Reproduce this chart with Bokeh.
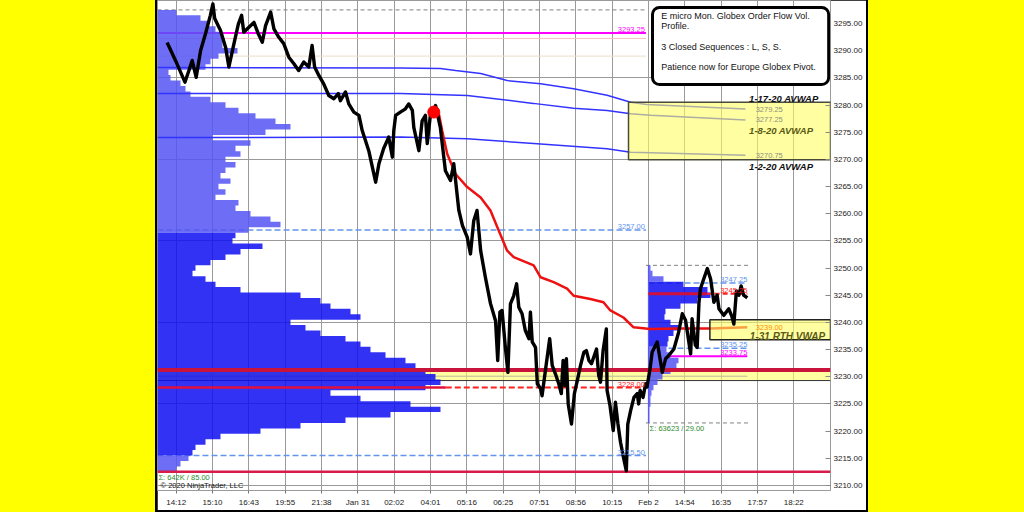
from bokeh.plotting import figure
from bokeh.models import (Range1d, FixedTicker, Label, BoxAnnotation, Div,
                          GlobalInlineStyleSheet, ColumnDataSource, PrintfTickFormatter)
from bokeh.layouts import row
from bokeh.embed import file_html
from bokeh.resources import INLINE

FONT = "Liberation Sans"

# ---------------- data ----------------
time_labels = ["14:12", "15:10", "16:43", "19:55", "21:38", "Jan 31", "02:02", "04:01",
               "05:16", "06:25", "07:51", "08:56", "10:15", "Feb 2", "14:54", "16:35",
               "17:57", "18:22"]

price_t = [-0.25, -0.02, 0.24, 0.35, 0.44, 0.55, 0.67, 0.81, 0.94, 1.01, 1.06, 1.22, 1.36, 1.45,
           1.59, 1.71, 1.80, 1.86, 2.00, 2.14, 2.26, 2.37, 2.46, 2.60, 2.69, 2.82, 2.96, 3.10,
           3.24, 3.37, 3.51, 3.65, 3.74, 3.81, 3.93, 4.06, 4.20, 4.34, 4.46, 4.52, 4.66, 4.75,
           4.89, 5.03, 5.12, 5.30, 5.49, 5.58, 5.71, 5.85, 5.95, 5.99, 6.04, 6.17, 6.31, 6.40,
           6.50, 6.54, 6.68, 6.77, 6.86, 6.91, 7.00, 7.09, 7.14, 7.27, 7.41, 7.55, 7.64, 7.78,
           7.88, 8.01, 8.10, 8.19, 8.28, 8.38, 8.51, 8.65, 8.79, 8.85, 8.91, 8.97, 9.06, 9.13,
           9.20, 9.29, 9.37, 9.43, 9.52, 9.61, 9.71, 9.75, 9.80, 9.89, 9.94, 10.03, 10.07,
           10.17, 10.28, 10.35, 10.44, 10.53, 10.60, 10.65, 10.70, 10.74, 10.79, 10.88, 10.96,
           11.04, 11.13, 11.22, 11.29, 11.36, 11.43, 11.57, 11.63, 11.68, 11.75, 11.84, 11.86,
           11.94, 12.03, 12.09, 12.16, 12.23, 12.32, 12.39, 12.43, 12.51, 12.60, 12.69, 12.73,
           12.77, 12.85, 12.92, 12.96, 13.05, 13.10, 13.24, 13.38, 13.47, 13.56, 13.70, 13.83,
           13.93, 14.02, 14.07, 14.16, 14.20, 14.29, 14.34, 14.39, 14.43, 14.52, 14.62, 14.71,
           14.80, 14.89, 14.94, 15.07, 15.21, 15.30, 15.35, 15.42, 15.49, 15.55, 15.62, 15.72]
price_v = [3291.5, 3288.2, 3284.2, 3286.35, 3288.2, 3285.1, 3290.0, 3293.2, 3296.5, 3298.6,
           3295.9, 3293.7, 3290.6, 3287.0, 3291.3, 3294.9, 3296.5, 3293.4, 3294.3, 3295.2,
           3293.1, 3291.55, 3294.6, 3297.1, 3294.0, 3292.5, 3291.3, 3288.8, 3287.6, 3286.35,
           3287.9, 3287.0, 3290.95, 3287.0, 3285.4, 3283.9, 3281.75, 3281.15, 3282.1, 3280.8,
           3282.4, 3280.2, 3278.7, 3278.1, 3275.3, 3271.6, 3265.8, 3269.2, 3272.0, 3274.1,
           3270.4, 3275.3, 3278.1, 3278.7, 3279.3, 3280.2, 3279.0, 3275.9, 3271.6, 3277.1,
           3278.1, 3272.9, 3278.4, 3278.7, 3279.9, 3275.9, 3267.9, 3266.1, 3269.2, 3260.6,
           3257.8, 3255.7, 3252.6, 3258.7, 3260.6, 3253.2, 3248.3, 3243.5, 3240.3, 3233.0,
           3241.9, 3242.2, 3235.4, 3230.8, 3243.4, 3244.9, 3247.1, 3242.8, 3241.6, 3238.5,
           3237.0, 3241.9, 3236.4, 3235.4, 3228.7, 3227.8, 3226.5, 3231.5, 3237.0, 3232.1,
           3230.5, 3228.7, 3226.9, 3233.0, 3228.4, 3233.3, 3225.0, 3221.3, 3226.9, 3229.3,
           3232.1, 3234.5, 3234.8, 3233.0, 3232.4, 3235.1, 3230.2, 3229.0, 3234.8, 3238.8,
           3227.5, 3224.7, 3220.1, 3225.3, 3221.3, 3217.95, 3214.9, 3212.7, 3221.3, 3223.8,
           3226.2, 3226.9, 3225.0, 3227.5, 3226.2, 3228.7, 3228.1, 3231.8, 3234.5, 3236.4,
           3230.8, 3233.3, 3233.9, 3235.1, 3238.2, 3241.6, 3240.4, 3238.2, 3234.2, 3240.7,
           3235.8, 3235.4, 3243.7, 3246.2, 3248.0, 3249.9, 3248.0, 3243.7, 3245.0, 3242.5,
           3241.3, 3242.5, 3241.0, 3239.7, 3245.8, 3245.0, 3246.7, 3245.0, 3244.5]

vwap_t = [7.09, 7.23, 7.32, 7.46, 7.69, 8.01, 8.38, 8.65, 8.84, 9.11, 9.29, 9.84, 10.03, 10.39,
          10.76, 10.94, 11.40, 11.76, 11.95, 12.31, 12.59, 13.05, 13.89, 14.71, 15.72]
vwap_v = [3278.7, 3278.4, 3275.3, 3271.0, 3267.3, 3264.9, 3263.0, 3260.6, 3257.5, 3253.2,
          3252.0, 3250.5, 3248.3, 3247.4, 3246.2, 3244.9, 3244.3, 3243.7, 3242.2, 3240.9,
          3239.1, 3238.8, 3238.9, 3238.9, 3239.1]

avwap_0117_t = [-0.52, 6.17, 7.27, 7.69, 8.38, 9.11, 10.03, 10.94, 11.86, 12.51, 12.95, 15.67]
avwap_0117_v = [3286.9, 3286.8, 3286.7, 3286.35, 3285.8, 3284.5, 3283.9, 3283.0, 3281.8,
                3280.5, 3280.1, 3279.25]
avwap_0108_t = [-0.52, 6.17, 8.01, 9.83, 10.94, 11.86, 12.51, 13.06, 15.67]
avwap_0108_v = [3282.1, 3282.1, 3281.75, 3280.3, 3279.4, 3279.0, 3278.4, 3278.1, 3277.25]
avwap_0102_t = [-0.52, 6.17, 8.01, 9.84, 11.86, 12.51, 13.06, 15.67]
avwap_0102_v = [3274.0, 3274.1, 3273.8, 3272.9, 3271.95, 3271.3, 3271.2, 3270.75]

# volume profile 1 (Jan 31 session), one row per point, 3297 down to 3213
profile1_levels = list(range(3297, 3212, -1))
profile1_vol = [19, 43, 51, 58, 65, 65, 65, 80, 61, 53, 48, 11, 13, 23, 28, 33, 53, 68, 81, 98,
                118, 133, 108, 55, 93, 78, 83, 68, 78, 68, 63, 73, 61, 68, 58, 81, 78, 93, 113,
                123, 91, 78, 75, 105, 83, 68, 53, 38, 35, 48, 58, 83, 143, 163, 173, 193, 203,
                133, 148, 163, 188, 203, 213, 228, 248, 258, 268, 278, 283, 268, 173, 203, 253,
                283, 233, 188, 143, 103, 63, 48, 38, 35, 31, 23, 19]
profile1_va = (3215.5, 3257.0)
# volume profile 2 (Feb 2 session), 3250 down to 3222
profile2_levels = list(range(3250, 3221, -1))
profile2_vol = [2, 4, 15, 35, 59, 62, 49, 32, 17, 16, 22, 30, 25, 20, 19, 18, 22, 30, 28, 22,
                14, 9, 5, 3, 2, 2, 1, 1, 1]
profile2_va = (3235.25, 3247.25)

session1_start, session1_end = -0.515, 12.93
session2_start, session2_end = 13.0, 15.72

flag_values = [3279.36, 3277.34, 3270.87, 3239.02]
last_price = 3244.50

# ---------------- figure ----------------
X0, X1 = -0.515, 18.01
p = figure(width=709, height=510, x_range=Range1d(X0, X1), y_range=Range1d(3209.07, 3299.23),
           output_backend="svg", toolbar_location=None, y_axis_location="right",
           min_border_left=0, min_border_right=36, min_border_top=0, min_border_bottom=20,
           background_fill_color="white", border_fill_color="white",
           outline_line_color="#9a9a9a", margin=0)

xa = p.xaxis[0]
xa.ticker = FixedTicker(ticks=list(range(len(time_labels))))
xa.major_label_overrides = {i: s for i, s in enumerate(time_labels)}
xa.major_label_text_font = FONT
xa.major_label_text_font_size = "8px"
xa.major_label_text_color = "#222222"
xa.axis_line_color = None
xa.major_tick_out = 3
xa.major_tick_in = 0
xa.major_tick_line_color = "#777777"
xa.minor_tick_line_color = None
xa.major_label_standoff = 4

ya = p.yaxis[0]
ya.ticker = FixedTicker(ticks=list(range(3210, 3300, 5)))
ya.formatter = PrintfTickFormatter(format="%.2f")
ya.major_label_text_font = FONT
ya.major_label_text_font_size = "8px"
ya.major_label_text_color = "#222222"
ya.axis_line_color = None
ya.major_tick_in = 5
ya.major_tick_out = 0
ya.major_tick_line_color = "#888888"
ya.minor_tick_line_color = None
ya.major_label_standoff = 3

p.xgrid.grid_line_color = "#9a9a9a"
p.ygrid.grid_line_color = "#9a9a9a"
p.ygrid.ticker = FixedTicker(ticks=list(range(3210, 3300, 15)))

YEL = "#ffff64"

# band (under profile)
p.quad(left=[X0], right=[X1], bottom=[3229.3], top=[3231.25], fill_color=YEL, fill_alpha=0.6,
       line_color=None)
p.segment(x0=[X0], x1=[X1], y0=[3229.3], y1=[3229.3], line_color="#333333", line_width=1)
p.segment(x0=[X0], x1=[session2_end], y0=[3230.1], y1=[3230.1], line_color="#b8b8a0",
          line_width=1)

# session-1 level lines (under the profile)
p.segment(x0=[session1_start], x1=[session1_end], y0=[3297.5], y1=[3297.5], line_color="#808080",
          line_dash="4 3", line_width=1)
p.segment(x0=[session1_start], x1=[session1_end], y0=[3292.25], y1=[3292.25],
          line_color="#f2c0c0", line_width=1)
p.segment(x0=[session1_start], x1=[session1_end], y0=[3289.0], y1=[3289.0],
          line_color="#ecdcc8", line_width=1)
p.segment(x0=[session1_start], x1=[session1_end], y0=[3293.25], y1=[3293.25],
          line_color="#ff00ff", line_width=2)
for lv in [3257.0, 3215.5]:
    p.segment(x0=[session1_start], x1=[session1_end], y0=[lv], y1=[lv], line_color="#6495ed",
              line_dash="6 3", line_width=1.6)

# session-2 level lines
for lv in [3250.5, 3221.5]:
    p.segment(x0=[session2_start - 0.07], x1=[session2_end + 0.03], y0=[lv], y1=[lv],
              line_color="#808080", line_dash="4 3", line_width=1)
p.segment(x0=[session2_start], x1=[session2_end], y0=[3247.25], y1=[3247.25],
          line_color="#6495ed", line_dash="6 3", line_width=1.6)
p.segment(x0=[13.55], x1=[session2_end], y0=[3235.25], y1=[3235.25],
          line_color="#6495ed", line_dash="6 3", line_width=1.6)
p.segment(x0=[13.55], x1=[session2_end], y0=[3233.75], y1=[3233.75],
          line_color="#ff00ff", line_width=2)


def profile(levels, vols, base, scale, va, light, deep):
    """Draw a volume profile as step-outlined patches (one per colour run)."""
    groups = []
    for lv, v in zip(levels, vols):
        c = deep if va[0] < lv < va[1] else light
        if not groups or groups[-1][0] != c:
            groups.append((c, []))
        groups[-1][1].append((lv, v))
    xs, ys, cs = [], [], []
    for c, items in groups:
        px, py = [base], [items[0][0] + 0.5]
        for lv, v in items:
            r = base + v * scale
            px += [r, r]
            py += [lv + 0.5, lv - 0.5]
        px.append(base)
        py.append(items[-1][0] - 0.5)
        xs.append(px)
        ys.append(py)
        cs.append(c)
    p.patches(xs="xs", ys="ys", source=ColumnDataSource(dict(xs=xs, ys=ys, c=cs)),
              fill_color="c", fill_alpha=0.85, line_color=None)


profile(profile1_levels, profile1_vol, session1_start, 1 / 36.33, profile1_va,
        "#5454f3", "#0e0ef3")
profile(profile2_levels, profile2_vol, session2_start, 1 / 36.33, profile2_va,
        "#5454f3", "#0e0ef3")
p.segment(x0=[session2_start], x1=[session2_start], y0=[3221.5], y1=[3250.5],
          line_color="#5a5af0", line_width=1.2)

# solid red levels
p.segment(x0=[X0], x1=[X1], y0=[3231.25], y1=[3231.25], line_color="#c8143c", line_width=4)
p.segment(x0=[X0], x1=[X1], y0=[3212.5], y1=[3212.5], line_color="#d81b4a", line_width=2.5)
p.segment(x0=[session1_start], x1=[7.42], y0=[3228.0], y1=[3228.0], line_color="#e0103a",
          line_width=2.5)
p.segment(x0=[7.42], x1=[session1_end], y0=[3228.0], y1=[3228.0], line_color="#ff2020",
          line_dash="6 3", line_width=2)
p.segment(x0=[session2_start], x1=[14.6], y0=[3245.25], y1=[3245.25], line_color="#d0103a",
          line_width=3)
p.segment(x0=[14.6], x1=[session2_end], y0=[3245.25], y1=[3245.25], line_color="#ff2020",
          line_dash="5 3", line_width=2)

# anchored VWAPs
for t, v in [(avwap_0117_t, avwap_0117_v), (avwap_0108_t, avwap_0108_v),
             (avwap_0102_t, avwap_0102_v)]:
    p.line(t, v, line_color="#3333ff", line_width=1.5)

# RTH VWAP
p.line(vwap_t, vwap_v, line_color="#ee1111", line_width=2.5)

# translucent yellow zones
p.quad(left=[12.45], right=[X1], bottom=[3269.92], top=[3280.52], fill_color=YEL,
       fill_alpha=0.6, line_color="#4a4a3a", line_width=1.5)
p.quad(left=[14.69], right=[X1], bottom=[3236.8], top=[3240.5], fill_color=YEL,
       fill_alpha=0.6, line_color="#222222", line_width=1.5)

# price
p.line(price_t, price_v, line_color="black", line_width=3.4, line_join="round")
p.scatter([vwap_t[0]], [vwap_v[0]], size=12, fill_color="#ff0000", line_color="#ff0000")


def lbl(x, y, text, color, size="7.5px", align="left", baseline="middle", style="normal",
        xo=0, yo=0):
    p.add_layout(Label(x=x, y=y, text=text, text_color=color, text_font=FONT,
                       text_font_size=size, text_align=align, text_baseline=baseline,
                       text_font_style=style, x_offset=xo, y_offset=yo))


BLUE_TXT = "#6495ed"
lbl(session1_end, 3293.25, "3293.25", "#ff00ff", align="right", baseline="bottom", xo=-1, yo=1)
lbl(session1_end, 3257.0, "3257.00", BLUE_TXT, align="right", baseline="bottom", xo=-1, yo=1)
lbl(session1_end, 3228.0, "3228.00", "#ff2020", align="right", baseline="bottom", xo=-1, yo=1)
lbl(session1_end, 3215.5, "3215.50", BLUE_TXT, align="right", baseline="bottom", xo=-1, yo=1)
lbl(session2_end, 3247.25, "3247.25", BLUE_TXT, align="right", baseline="bottom", yo=1)
lbl(session2_end, 3245.25, "3245.25", "#ff2020", align="right", baseline="bottom", yo=1)
lbl(session2_end, 3235.25, "3235.25", BLUE_TXT, align="right", baseline="bottom", yo=1)
lbl(session2_end, 3233.75, "3233.75", "#ff00ff", align="right", baseline="bottom", yo=1)
lbl(15.95, vwap_v[-1], "3239.00", "#ff8c00")
for v in [avwap_0117_v[-1], avwap_0108_v[-1], avwap_0102_v[-1]]:
    lbl(15.95, v, "%.2f" % v, "#8f8f80")

lbl(15.77, 3281.25, "1-17-20 AVWAP", "#111111", size="9.5px", style="bold italic")
lbl(15.77, 3275.3, "1-8-20  AVWAP", "#5a5a14", size="9.5px", style="bold italic")
lbl(15.77, 3268.74, "1-2-20 AVWAP", "#111111", size="9.5px", style="bold italic")
lbl(15.79, 3237.4, "1-31 RTH VWAP", "#5a5a14", size="10px", style="bold italic")

lbl(-0.49, 3211.47, "Σ: 642K / 85.00", "#2e8b2e", size="7.5px")
lbl(-0.43, 3209.99, "© 2020 NinjaTrader, LLC", "#111111", size="7.5px")
lbl(13.03, 3220.48, "Σ: 63623 / 29.00", "#2e8b2e", size="7.5px")

# note box
p.add_layout(BoxAnnotation(left=13.11, right=17.96, top=3297.94, bottom=3283.77,
                           fill_color="white", fill_alpha=1.0, line_color="black",
                           line_alpha=1.0, line_width=3, border_radius=7))
lbl(13.35, 3296.29, "E micro Mon. Globex Order Flow Vol.", "#111111", size="9px")
lbl(13.35, 3294.45, "Profile.", "#111111", size="9px")
lbl(13.35, 3290.64, "3 Closed Sequences : L, S, S.", "#111111", size="9px")
lbl(13.35, 3286.96, "Patience now for Europe Globex Pivot.", "#111111", size="9px")

# price flags on the axis
for v in flag_values:
    p.add_layout(Label(x=676, y=v, x_units="screen", text="%.2f" % v, text_color="white",
                       text_font=FONT, text_font_size="7.5px", text_baseline="middle",
                       background_fill_color="#1414f0", padding=2))
p.add_layout(Label(x=676, y=last_price, x_units="screen", text="%.2f" % last_price,
                   text_color="white", text_font=FONT, text_font_size="7.5px",
                   text_baseline="middle", background_fill_color="black", padding=2))

left = Div(text="", width=157, height=512, margin=0,
           styles={"background-color": "#ffff00", "border-right": "2px solid #000",
                   "box-sizing": "border-box"})
right = Div(text="", width=158, height=512, margin=0,
            styles={"background-color": "#ffff00", "border-left": "2px solid #000",
                    "box-sizing": "border-box"})
layout = row(left, p, right, spacing=0)
layout.stylesheets = [GlobalInlineStyleSheet(css="html,body{margin:0;padding:0;background:#000;}")]

open("out.html", "w").write(file_html(layout, INLINE))
